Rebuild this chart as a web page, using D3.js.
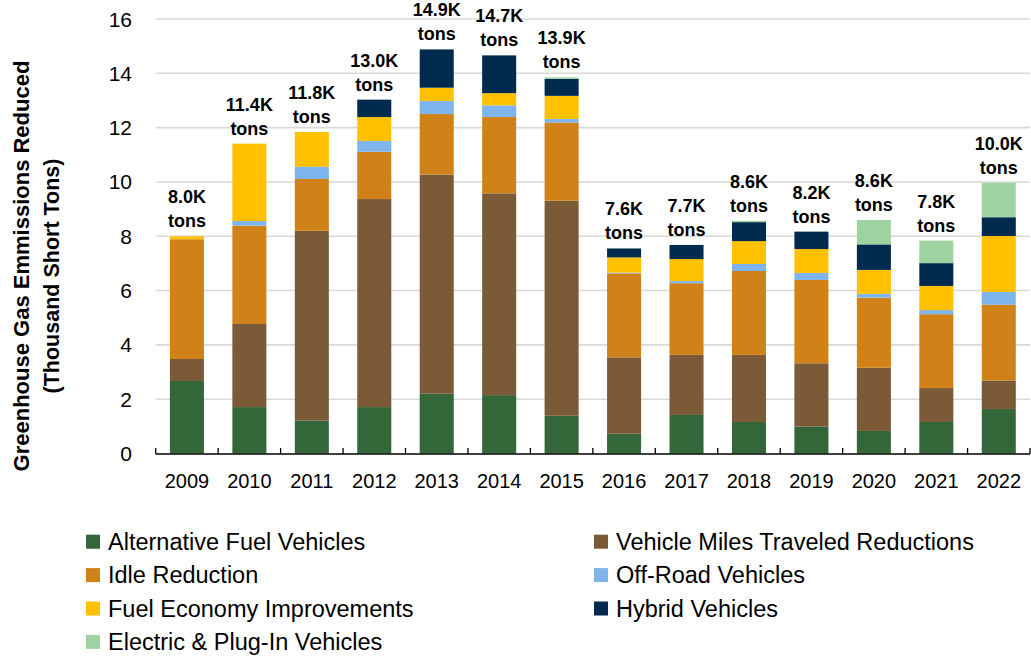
<!DOCTYPE html>
<html>
<head>
<meta charset="utf-8">
<script src="https://cdn.jsdelivr.net/npm/d3@7"></script>
<style>
  html, body { margin: 0; padding: 0; background: #fff; }
  svg { display: block; }
  text { font-family: "Liberation Sans", Arial, sans-serif; fill: #000; }
</style>
</head>
<body>
<svg id="chart" width="1031" height="658"></svg>
<script>
// ---- Data ----
const years = ["2009","2010","2011","2012","2013","2014","2015","2016","2017","2018","2019","2020","2021","2022"];
const seriesNames = ["Alternative Fuel Vehicles","Vehicle Miles Traveled Reductions","Idle Reduction","Off-Road Vehicles","Fuel Economy Improvements","Hybrid Vehicles","Electric & Plug-In Vehicles"];
const seriesColors = ["#33673A","#7B5A38","#D08219","#7DB5EC","#FFC000","#002A4E","#9ED3A1"];
const altFuel   = [2.67,1.71,1.21,1.71,2.20,2.15,1.39,0.73,1.42,1.16,0.99,0.83,1.16,1.64];
const vmt       = [0.81,3.06,6.99,7.66,8.07,7.43,7.92,2.81,2.21,2.47,2.33,2.33,1.25,1.05];
const idle      = [4.41,3.62,1.91,1.74,2.23,2.81,2.88,3.09,2.64,3.09,3.07,2.58,2.72,2.79];
const offRoad   = [0.00,0.17,0.45,0.40,0.48,0.43,0.13,0.03,0.08,0.26,0.26,0.14,0.15,0.47];
const fuelEcon  = [0.11,2.85,1.28,0.88,0.49,0.45,0.85,0.56,0.81,0.84,0.88,0.88,0.89,2.06];
const hybrid    = [0.00,0.00,0.00,0.64,1.41,1.39,0.63,0.33,0.52,0.70,0.64,0.94,0.84,0.69];
const electric  = [0.00,0.00,0.00,0.00,0.00,0.00,0.05,0.00,0.00,0.05,0.00,0.90,0.83,1.27];
const totalLabels = ["8.0K","11.4K","11.8K","13.0K","14.9K","14.7K","13.9K","7.6K","7.7K","8.6K","8.2K","8.6K","7.8K","10.0K"];
const yTicks = [0,2,4,6,8,10,12,14,16];
const yTitle = ["Greenhouse Gas Emmissions Reduced","(Thousand Short Tons)"];

// ---- Build table ----
const seriesValues = [altFuel, vmt, idle, offRoad, fuelEcon, hybrid, electric];
const keys = seriesNames;
const table = years.map((yr, i) => {
  const row = { year: yr };
  keys.forEach((k, s) => row[k] = seriesValues[s][i]);
  return row;
});

const svg = d3.select("#chart");
const plotL = 155.7, plotR = 1030, plotT = 19, plotB = 453.5;

const x = d3.scaleBand().domain(years).range([plotL, plotR]).paddingInner(0.455).paddingOuter(0.2275);
const y = d3.scaleLinear().domain([0, 16]).range([plotB, plotT]);
const color = d3.scaleOrdinal().domain(keys).range(seriesColors);

// gridlines
svg.append("g").selectAll("line").data(yTicks.filter(d => d > 0)).join("line")
  .attr("x1", plotL).attr("x2", plotR)
  .attr("y1", d => y(d)).attr("y2", d => y(d))
  .attr("stroke", "#d9d9d9").attr("stroke-width", 1.6);

// y tick labels
svg.append("g").selectAll("text").data(yTicks).join("text")
  .attr("x", 132).attr("y", d => y(d) + 7.5)
  .attr("text-anchor", "end")
  .style("font-size", "21px")
  .text(d => d);

// stacked bars
const stack = d3.stack().keys(keys);
const stacked = stack(table);
svg.append("g").selectAll("g").data(stacked).join("g")
  .attr("fill", d => color(d.key))
  .selectAll("rect").data(d => d).join("rect")
  .attr("x", d => x(d.data.year))
  .attr("width", x.bandwidth())
  .attr("y", d => y(d[1]))
  .attr("height", d => Math.max(0, y(d[0]) - y(d[1])));

// x axis line and ticks (between categories)
const axisG = svg.append("g");
axisG.append("line").attr("x1", plotL).attr("x2", plotR).attr("y1", 454).attr("y2", 454)
  .attr("stroke", "#000").attr("stroke-width", 1.5);
const boundaries = years.map(yr => x(yr) - x.step() * x.paddingInner() / 2).concat([plotR]);
axisG.selectAll("line.tick").data(boundaries).join("line").attr("class", "tick")
  .attr("x1", d => d).attr("x2", d => d).attr("y1", 454).attr("y2", 448)
  .attr("stroke", "#000").attr("stroke-width", 1.3);

// x tick labels
svg.append("g").selectAll("text").data(years).join("text")
  .attr("x", d => x(d) + x.bandwidth() / 2).attr("y", 487.5)
  .attr("text-anchor", "middle")
  .style("font-size", "20px")
  .text(d => d);

// total labels
const topVals = stacked[stacked.length - 1];
const lbl = svg.append("g");
years.forEach((yr, i) => {
  const tp = y(topVals[i][1]);
  const cx = x(yr) + x.bandwidth() / 2;
  lbl.append("text").attr("x", cx).attr("y", tp - 33)
    .attr("text-anchor", "middle").style("font-size", "18px").style("font-weight", "bold")
    .text(totalLabels[i]);
  lbl.append("text").attr("x", cx).attr("y", tp - 9)
    .attr("text-anchor", "middle").style("font-size", "18px").style("font-weight", "bold")
    .text("tons");
});

// y axis title
const yt = svg.append("g").attr("transform", "rotate(-90)");
yt.append("text").attr("x", -266).attr("y", 29).attr("text-anchor", "middle")
  .style("font-size", "22px").style("font-weight", "bold").text(yTitle[0]);
yt.append("text").attr("x", -276).attr("y", 59).attr("text-anchor", "middle")
  .style("font-size", "21.5px").style("font-weight", "bold").text(yTitle[1]);

// legend
const legX = [86, 594], legY0 = 541.7, legDY = 33.4;
const leg = svg.append("g").selectAll("g").data(keys).join("g")
  .attr("transform", (d, i) => `translate(${legX[i % 2]},${legY0 + Math.floor(i / 2) * legDY})`);
leg.append("rect").attr("x", 0).attr("y", -7).attr("width", 14).attr("height", 14)
  .attr("fill", d => color(d));
leg.append("text").attr("x", 22).attr("y", 8.3).style("font-size", "23.5px").text(d => d);
</script>
</body>
</html>
